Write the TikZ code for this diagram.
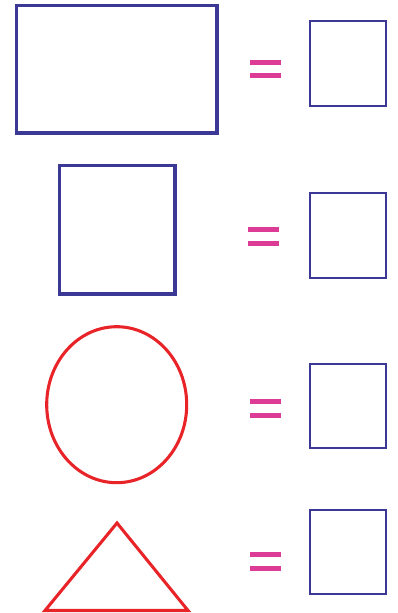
\documentclass[tikz,border=0pt]{standalone}
\definecolor{shapeblue}{RGB}{59,56,150}
\definecolor{shapered}{RGB}{232,36,40}
\definecolor{eqpink}{RGB}{220,60,150}
\tikzset{
  bigblue/.style={draw=shapeblue, line width=2.3pt},
  smallblue/.style={draw=shapeblue, line width=1.5pt},
  redshape/.style={draw=shapered, line width=2.3pt, line join=miter},
  eqbar/.style={fill=eqpink, draw=none}
}
\newcommand{\eqsign}[3]{% x, y1, y2 (top of bars)
  \fill[eqbar] (#1,#2) rectangle ++(31,5);
  \fill[eqbar] (#1,#3) rectangle ++(31,5);
}
\begin{document}
\begin{tikzpicture}[x=0.75pt,y=-0.75pt]
\useasboundingbox (0,0) rectangle (397,613);
% row 1
\draw[bigblue] (16.5,5.5) rectangle (217,133);
\eqsign{250}{60}{73.5}
\draw[smallblue] (310,21) rectangle (386,106);
% row 2
\draw[bigblue] (59.5,165.5) rectangle (175,294);
\eqsign{248}{226.5}{240.5}
\draw[smallblue] (310,193) rectangle (386,278);
% row 3
\draw[redshape] (116.7,404.7) ellipse [x radius=70, y radius=78];
\eqsign{250}{398.5}{413}
\draw[smallblue] (310,363.5) rectangle (386,448);
% row 4
\draw[redshape] (117,523) -- (188,610.5) -- (45,610.5) -- cycle;
\eqsign{250}{552}{565.5}
\draw[smallblue] (310,509.5) rectangle (386,594);
\end{tikzpicture}
\end{document}
